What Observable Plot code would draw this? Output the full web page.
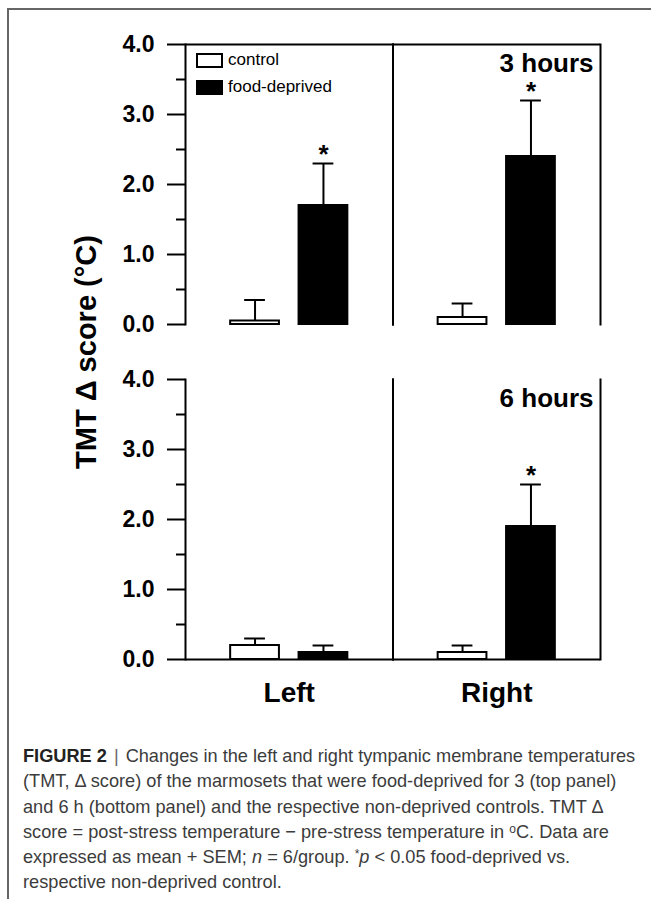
<!DOCTYPE html>
<html>
<head>
<meta charset="utf-8">
<script src="https://cdn.jsdelivr.net/npm/d3@7"></script>
<script src="https://cdn.jsdelivr.net/npm/@observablehq/plot@0.6"></script>
<style>
  html, body { margin: 0; padding: 0; background: #fff; }
  #wrap { position: relative; width: 651px; height: 899px; overflow: hidden; font-family: "Liberation Sans", Arial, sans-serif; }
  #frame { position: absolute; left: 7px; top: 8px; width: 660px; height: 920px; border-top: 2px solid #666; border-left: 2px solid #666; }
  #chart { position: absolute; left: 0; top: 0; }
  #ylabel { position: absolute; left: 86px; top: 352px; transform: translate(-50%, -50%) rotate(-90deg); white-space: nowrap; font-size: 29px; font-weight: bold; color: #000; }
  #legend { position: absolute; left: 196px; top: 53px; }
  .lg-item { position: relative; height: 27px; }
  .lg-sw { position: absolute; left: 0; top: 0; width: 27px; height: 15px; box-sizing: border-box; border: 2px solid #000; }
  .lg-tx { position: absolute; left: 32px; top: -3px; font-size: 17px; line-height: 20px; color: #000; white-space: nowrap; }
  #caption { position: absolute; left: 23px; top: 744px; width: 626px; font-size: 18.2px; line-height: 25.3px; color: #3c3c3c; white-space: nowrap; }
  #caption b { color: #222; }
  #caption .bar { color: #666; padding: 0 7px; }
  #caption .sup { position: relative; top: -0.45em; font-size: 12px; line-height: 0; }
</style>
</head>
<body>
<div id="wrap">
  <div id="frame"></div>
  <div id="chart"></div>
  <div id="ylabel">TMT Δ score (°C)</div>
  <div id="legend"></div>
  <div id="caption"><b>FIGURE 2</b><span class="bar">|</span>Changes in the left and right tympanic membrane temperatures<br>(TMT, Δ score) of the marmosets that were food-deprived for 3 (top panel)<br>and 6 h (bottom panel) and the respective non-deprived controls. TMT Δ<br>score = post-stress temperature − pre-stress temperature in <span class="sup">o</span>C. Data are<br>expressed as mean + SEM; <i>n</i> = 6/group. <span class="sup">*</span><i>p</i> &lt; 0.05 food-deprived vs.<br>respective non-deprived control.</div>
</div>
<script>
// ---- data ----
const durations = ["3 hours", "6 hours"];
const sides = ["Left", "Right"];
const groups = ["control", "food-deprived"];
const panel = ["3 hours", "3 hours", "3 hours", "3 hours", "6 hours", "6 hours", "6 hours", "6 hours"];
const side = ["Left", "Left", "Right", "Right", "Left", "Left", "Right", "Right"];
const group = ["control", "food-deprived", "control", "food-deprived", "control", "food-deprived", "control", "food-deprived"];
const mean = [0.05, 1.7, 0.1, 2.4, 0.2, 0.1, 0.1, 1.9];
const sem = [0.3, 0.6, 0.2, 0.8, 0.1, 0.1, 0.1, 0.6];
const significant = [false, true, false, true, false, false, false, true];
const yTicks = [0, 1, 2, 3, 4];
const yMinorTicks = [0.5, 1.5, 2.5, 3.5];
const groupColors = ["#ffffff", "#000000"];

const rows = mean.map((m, i) => ({
  panel: panel[i], side: side[i], group: group[i], mean: m, upper: m + sem[i], sig: significant[i]
}));
const topLine = [{panel: durations[0], y: 4}];
const baseLine = [{panel: durations[1], y: 0}];
const panelLabels = durations.map(d => ({panel: d, side: sides[1], label: d}));

const plot = Plot.plot({
  width: 651,
  height: 720,
  marginLeft: 185,
  marginRight: 51,
  marginTop: 44,
  marginBottom: 61,
  style: {fontFamily: "'Liberation Sans', Arial, sans-serif", color: "#000", background: "transparent"},
  fx: {domain: sides, padding: 0, round: false},
  fy: {domain: durations, paddingInner: 55 / 335, paddingOuter: 0, round: false, axis: null},
  x: {domain: groups, paddingInner: 0.287, paddingOuter: 0.66, round: false, axis: null},
  y: {domain: [0, 4]},
  color: {domain: groups, range: groupColors},
  marks: [
    Plot.frame({anchor: "left", stroke: "#000", strokeWidth: 2}),
    Plot.frame({anchor: "right", stroke: "#000", strokeWidth: 2}),
    Plot.ruleY(topLine, {y: "y", fy: "panel", stroke: "#000", strokeWidth: 2}),
    Plot.ruleY(baseLine, {y: "y", fy: "panel", stroke: "#000", strokeWidth: 2}),
    Plot.axisY({ticks: yTicks, tickFormat: d3.format(".1f"), tickSize: 18, tickPadding: 13, fontSize: 23, fontWeight: "bold", strokeWidth: 2, label: null, facetAnchor: "left"}),
    Plot.axisY({ticks: yMinorTicks, tickFormat: () => "", tickSize: 9, strokeWidth: 2, label: null, facetAnchor: "left"}),
    Plot.axisFx({anchor: "bottom", tickSize: 0, tickPadding: 23, fontSize: 28, fontWeight: "bold", label: null}),
    Plot.ruleX(rows, {fx: "side", fy: "panel", x: "group", y1: "mean", y2: "upper", stroke: "#000", strokeWidth: 2}),
    Plot.tickY(rows, {fx: "side", fy: "panel", x: "group", y: "upper", stroke: "#000", strokeWidth: 2, insetLeft: 14, insetRight: 14}),
    Plot.barY(rows, {fx: "side", fy: "panel", x: "group", y: "mean", fill: "group", stroke: "#000", strokeWidth: 2}),
    Plot.text(rows.filter(d => d.sig), {fx: "side", fy: "panel", x: "group", y: "upper", text: () => "*", lineAnchor: "bottom", dy: -1, fontSize: 26, fontWeight: "bold", fill: "#000"}),
    Plot.text(panelLabels, {fx: "side", fy: "panel", text: "label", frameAnchor: "top-right", dx: -7, dy: 9, fontSize: 26, fontWeight: "bold", fill: "#000"})
  ]
});
document.getElementById("chart").appendChild(plot);

// legend built from the plot's colour scale
const color = plot.scale("color");
const lg = document.getElementById("legend");
color.domain.forEach((d, i) => {
  const item = document.createElement("div");
  item.className = "lg-item";
  const sw = document.createElement("div");
  sw.className = "lg-sw";
  sw.style.background = color.range[i];
  const tx = document.createElement("div");
  tx.className = "lg-tx";
  tx.textContent = d;
  item.appendChild(sw);
  item.appendChild(tx);
  lg.appendChild(item);
});
</script>
</body>
</html>
